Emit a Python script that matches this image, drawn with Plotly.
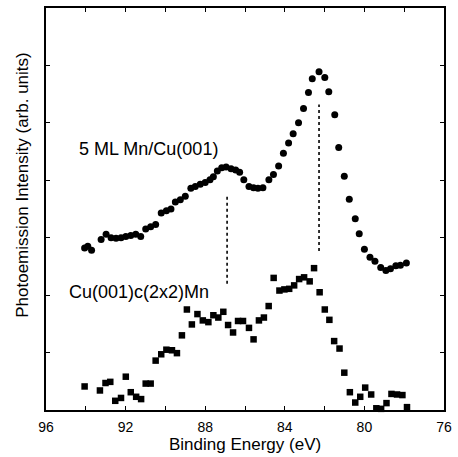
import plotly.graph_objects as go

# 5 ML Mn/Cu(001) (circles)
film_energy = [94.06, 93.90, 93.71, 93.23, 92.98, 92.73, 92.48, 92.23, 91.99, 91.74,
               91.49, 91.24, 90.99, 90.74, 90.49, 90.21, 89.95, 89.72, 89.50, 89.25,
               89.00, 88.72, 88.50, 88.25, 88.00, 87.76, 87.59, 87.39, 87.17, 86.95,
               86.70, 86.47, 86.27, 86.06, 85.80, 85.57, 85.35, 85.10, 84.80, 84.57,
               84.31, 84.07, 83.81, 83.58, 83.31, 83.06, 82.81, 82.62, 82.28, 81.99,
               81.79, 81.49, 81.29, 81.01, 80.76, 80.46, 80.26, 80.00, 79.72, 79.47,
               79.18, 78.92, 78.69, 78.42, 78.19, 77.89]
film_intensity = [2.82, 2.85, 2.78, 2.97, 3.06, 3.00, 2.99, 3.00, 3.02, 3.04,
                  3.06, 3.02, 3.15, 3.19, 3.23, 3.43, 3.47, 3.50, 3.62, 3.66,
                  3.72, 3.86, 3.89, 3.93, 3.96, 4.01, 4.06, 4.16, 4.22, 4.23,
                  4.20, 4.18, 4.14, 4.01, 3.89, 3.87, 3.86, 3.87, 4.01, 4.10,
                  4.25, 4.47, 4.65, 4.81, 5.00, 5.25, 5.53, 5.77, 5.89, 5.79,
                  5.54, 5.14, 4.57, 4.07, 3.67, 3.33, 3.07, 2.80, 2.66, 2.59,
                  2.48, 2.43, 2.46, 2.51, 2.52, 2.56]

# Cu(001)c(2x2)Mn (squares)
alloy_energy = [94.06, 93.29, 93.01, 92.77, 92.52, 92.23, 91.99, 91.74, 91.47, 91.22,
                90.99, 90.74, 90.49, 90.21, 89.95, 89.67, 89.42, 89.17, 88.92, 88.67,
                88.39, 88.12, 87.84, 87.59, 87.34, 87.09, 86.85, 86.60, 86.35, 86.10,
                85.80, 85.57, 85.30, 85.05, 84.81, 84.56, 84.27, 84.02, 83.78, 83.53,
                83.28, 83.03, 82.75, 82.53, 82.25, 81.99, 81.76, 81.52, 81.25, 81.01,
                80.73, 80.46, 80.21, 79.96, 79.66, 79.40, 79.16, 78.89, 78.64, 78.36,
                78.09, 77.86]
alloy_intensity = [0.41, 0.34, 0.47, 0.49, 0.16, 0.21, 0.58, 0.31, 0.23, 0.19,
                   0.46, 0.46, 0.86, 0.97, 1.05, 1.04, 0.99, 1.30, 1.75, 1.49,
                   1.67, 1.56, 1.53, 1.65, 1.61, 1.71, 1.48, 1.35, 1.55, 1.55,
                   1.43, 1.23, 1.56, 1.61, 1.81, 2.30, 2.08, 2.10, 2.11, 2.17,
                   2.28, 2.31, 2.24, 2.47, 2.05, 1.75, 1.57, 1.20, 1.07, 0.65,
                   0.31, 0.13, 0.23, 0.39, 0.27, 0.03, 0.02, 0.12, 0.28, 0.27,
                   0.26, 0.05]

# dashed guide lines marking the peaks
peak_energy = [86.9, 82.28]
peak_top = [3.73, 5.32]
peak_bottom = [2.20, 2.77]

x_tickvals = [96, 94, 92, 90, 88, 86, 84, 82, 80, 78, 76]
x_ticktext = ["96", "", "92", "", "88", "", "84", "", "80", "", "76"]
y_tickvals = [1, 2, 3, 4, 5, 6]

labels = ["5 ML Mn/Cu(001)", "Cu(001)c(2x2)Mn"]
label_x = [94.46, 94.96]
label_y = [4.54, 2.05]

FONT = "Liberation Sans, Arial, sans-serif"

fig = go.Figure()
fig.add_trace(go.Scatter(
    x=film_energy, y=film_intensity, mode="markers",
    marker=dict(symbol="circle", size=7, color="black"),
    cliponaxis=False, showlegend=False))
fig.add_trace(go.Scatter(
    x=alloy_energy, y=alloy_intensity, mode="markers",
    marker=dict(symbol="square", size=6.5, color="black"),
    cliponaxis=False, showlegend=False))

for e, t, b in zip(peak_energy, peak_top, peak_bottom):
    fig.add_shape(type="line", x0=e, x1=e, y0=b, y1=t, xref="x", yref="y",
                  line=dict(color="black", width=1.6, dash="3px,3px"))

for txt, x, y in zip(labels, label_x, label_y):
    fig.add_annotation(x=x, y=y, xref="x", yref="y", text=txt, showarrow=False,
                       xanchor="left", yanchor="middle",
                       font=dict(family=FONT, size=18, color="black"))

fig.add_annotation(x=0.5, y=-0.087, xref="paper", yref="paper",
                   text="Binding Energy (eV)", showarrow=False,
                   xanchor="center", yanchor="middle",
                   font=dict(family=FONT, size=17, color="black"))
fig.add_annotation(x=-0.058, y=0.56, xref="paper", yref="paper",
                   text="Photoemission Intensity (arb. units)", showarrow=False,
                   textangle=-90, xanchor="center", yanchor="middle",
                   font=dict(family=FONT, size=17, color="black"))

fig.update_layout(
    width=458, height=457,
    margin=dict(l=46, r=9, t=6, b=47),
    paper_bgcolor="white", plot_bgcolor="white",
    font=dict(family=FONT, color="black"),
    xaxis=dict(range=[96, 76], tickvals=x_tickvals, ticktext=x_ticktext,
               ticks="inside", ticklen=4, tickwidth=1, tickcolor="black",
               showline=True, linecolor="black", linewidth=1.5, mirror="ticks",
               showgrid=False, zeroline=False, ticklabelstandoff=3,
               tickfont=dict(family=FONT, size=14, color="black")),
    yaxis=dict(range=[0, 7], tickvals=y_tickvals, showticklabels=False,
               ticks="inside", ticklen=4, tickwidth=1, tickcolor="black",
               showline=True, linecolor="black", linewidth=1.5, mirror="ticks",
               showgrid=False, zeroline=False),
)

fig.write_html("out.html", config={"displayModeBar": False},
               post_script="document.body.style.margin='0';document.body.style.overflow='hidden';")
